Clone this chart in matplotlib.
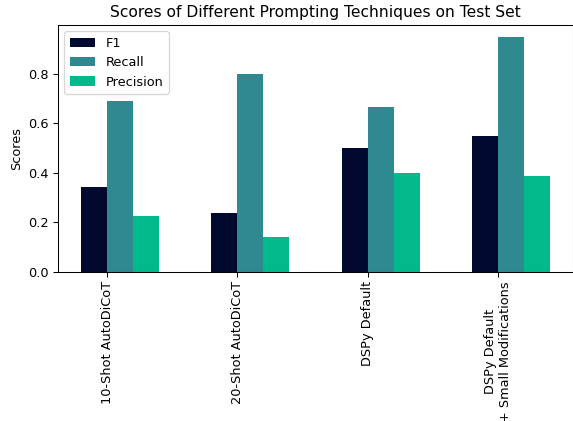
import matplotlib
matplotlib.use("Agg")
import matplotlib.pyplot as plt
import numpy as np

categories = ["10-Shot AutoDiCoT", "20-Shot AutoDiCoT", "DSPy Default",
              "DSPy Default\n+ Small Modifications"]
f1 = [0.344, 0.240, 0.500, 0.548]
recall = [0.690, 0.800, 0.666, 0.950]
precision = [0.227, 0.142, 0.398, 0.386]

DPI = 93
fig = plt.figure(figsize=(573/DPI, 421/DPI), dpi=DPI)
ax = fig.add_axes([58/573, 149/421, 515/573, 247/421])
x = np.arange(len(categories))
w = 0.2
ax.bar(x - w/2, f1, w, label="F1", color="#010a2e")
ax.bar(x + w/2, recall, w, label="Recall", color="#2e8990")
ax.bar(x + 1.5*w, precision, w, label="Precision", color="#02b98c")
ax.set_xticks(x)
ax.set_xticklabels(categories, rotation=90)
ax.set_ylabel("Scores")
ax.set_title("Scores of Different Prompting Techniques on Test Set")
ax.legend(loc="upper left")
fig.savefig("out.png", dpi=DPI)
